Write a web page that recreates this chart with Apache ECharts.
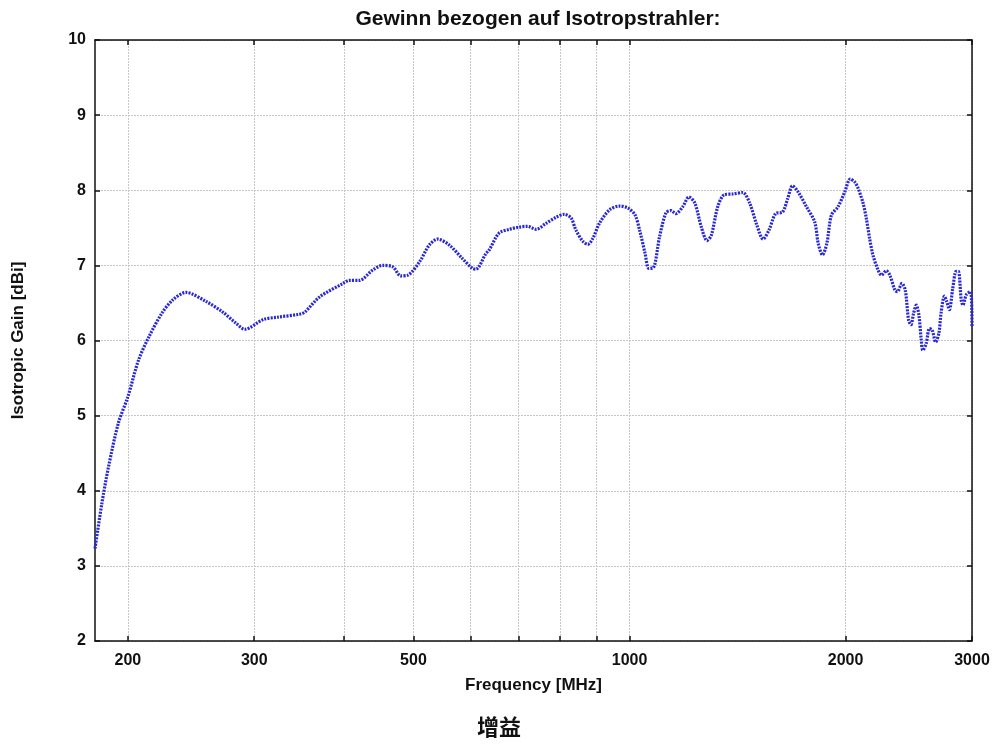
<!DOCTYPE html>
<html>
<head>
<meta charset="utf-8">
<script src="https://cdn.jsdelivr.net/npm/echarts@6/dist/echarts.min.js"></script>
<style>
html,body{margin:0;padding:0;background:#fff;}
#chart{width:996px;height:747px;}
</style>
</head>
<body>
<div id="chart"></div>
<script>
const freqMHz = [180,184,188,194,200,207,214,223,231,241,
  257,271,283,291,309,323,347,353,370,399,
  407,420,439,453,468,480,491,510,526,540,
  561,585,604,611,631,637,658,680,702,721,
  741,765,790,811,829,842,861,875,889,908,
  938,968,996,1018,1034,1051,1064,1080,1101,1124,
  1142,1160,1186,1210,1233,1259,1282,1300,1327,1355,
  1392,1438,1470,1504,1535,1564,1598,1634,1661,1687,
  1717,1764,1811,1832,1857,1883,1911,1952,1995,2030,
  2059,2081,2115,2137,2160,2183,2219,2244,2279,2305,
  2343,2361,2396,2422,2448,2467,2487,2509,2530,2549,
  2562,2590,2617,2640,2670,2698,2716,2746,2766,2790,
  2820,2851,2872,2898,2914,2946,2986,3000];
const gainDBi = [3.23,3.83,4.32,4.90,5.25,5.74,6.05,6.36,6.54,6.64,
  6.52,6.38,6.23,6.15,6.28,6.31,6.35,6.38,6.58,6.76,
  6.80,6.80,6.94,7.00,6.98,6.86,6.87,7.05,7.27,7.35,
  7.27,7.09,6.96,6.95,7.16,7.20,7.43,7.48,7.51,7.52,
  7.48,7.56,7.64,7.68,7.63,7.47,7.32,7.28,7.36,7.56,
  7.74,7.79,7.76,7.67,7.45,7.16,6.96,6.97,7.38,7.70,
  7.73,7.69,7.78,7.91,7.83,7.51,7.33,7.40,7.78,7.94,
  7.95,7.97,7.83,7.54,7.35,7.47,7.69,7.71,7.89,8.06,
  7.98,7.78,7.58,7.29,7.14,7.29,7.67,7.78,7.98,8.15,
  8.11,8.03,7.83,7.63,7.36,7.14,6.94,6.87,6.93,6.87,
  6.67,6.65,6.76,6.67,6.27,6.21,6.36,6.47,6.34,6.01,
  5.87,5.96,6.16,6.14,5.98,6.10,6.36,6.59,6.52,6.41,
  6.69,6.92,6.92,6.54,6.47,6.61,6.65,6.18];
const xLabelValues = [200,300,500,1000,2000,3000];
const xGridValues = [200,300,400,500,600,700,800,900,1000,2000,3000];
const yTicks = [2,3,4,5,6,7,8,9,10];

const titleText = 'Gewinn bezogen auf Isotropstrahler:';
const xName = 'Frequency [MHz]';
const yName = 'Isotropic Gain [dBi]';
const caption = '增益';

const FONT = '"Liberation Sans", Arial, sans-serif';
const chart = echarts.init(document.getElementById('chart'), null, {renderer: 'canvas'});

const gridLine = {show: true, lineStyle: {color: '#c6c6c6', width: 1, type: [2, 1]}};
const xBase = {
  type: 'log', logBase: 10, min: 180, max: 3000,
  axisLine: {show: true, onZero: false, lineStyle: {color: '#111', width: 1.5}},
  axisTick: {show: true, inside: true, length: 5, customValues: xGridValues, lineStyle: {color: '#111', width: 1.5}},
  minorTick: {show: false}, minorSplitLine: {show: false}
};
const yBase = {
  type: 'value', min: 2, max: 10, interval: 1,
  axisLine: {show: true, onZero: false, lineStyle: {color: '#111', width: 1.5}},
  axisTick: {show: true, inside: true, length: 5, lineStyle: {color: '#111', width: 1.5}}
};

chart.setOption({
  animation: false,
  backgroundColor: '#fff',
  title: {
    text: titleText, left: 533, top: 4, textAlign: 'center',
    textStyle: {fontFamily: FONT, fontWeight: 'bold', fontSize: 21, color: '#111'}
  },
  grid: {left: 95, right: 24, top: 40, bottom: 106, containLabel: false},
  xAxis: [
    Object.assign({}, xBase, {
      position: 'bottom',
      name: xName, nameLocation: 'middle', nameGap: 36,
      nameTextStyle: {fontFamily: FONT, fontWeight: 'bold', fontSize: 17, color: '#111'},
      axisLabel: {show: true, customValues: xLabelValues, margin: 12, formatter: v => String(Math.round(v)),
        fontFamily: FONT, fontWeight: 'bold', fontSize: 16, color: '#111'},
      splitLine: gridLine
    }),
    Object.assign({}, xBase, {position: 'top', axisLabel: {show: false}, splitLine: {show: false}})
  ],
  yAxis: [
    Object.assign({}, yBase, {
      position: 'left',
      name: yName, nameLocation: 'middle', nameGap: 68, nameRotate: 90,
      nameTextStyle: {fontFamily: FONT, fontWeight: 'bold', fontSize: 17, color: '#111'},
      axisLabel: {show: true, margin: 9, fontFamily: FONT, fontWeight: 'bold', fontSize: 16, color: '#111'},
      splitLine: gridLine
    }),
    Object.assign({}, yBase, {position: 'right', axisLabel: {show: false}, splitLine: {show: false}})
  ],
  graphic: [{
    type: 'text', left: 477, top: 716,
    style: {text: caption, font: 'bold 22px "Noto Sans CJK SC", sans-serif', fill: '#111'}
  }],
  series: [{
    type: 'line',
    xAxisIndex: 0, yAxisIndex: 0,
    data: freqMHz.map((f, i) => [f, gainDBi[i]]),
    showSymbol: false,
    smooth: 0.3,
    clip: true,
    lineStyle: {color: '#2828d4', width: 3.2, type: [2, 1.2]}
  }]
});
</script>
</body>
</html>
